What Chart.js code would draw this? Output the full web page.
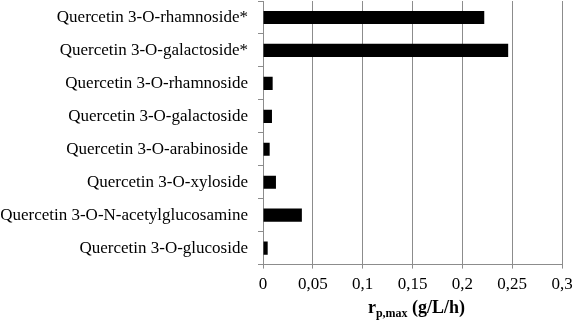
<!DOCTYPE html>
<html>
<head>
<meta charset="utf-8">
<script src="https://cdn.jsdelivr.net/npm/chart.js@4.4.0/dist/chart.umd.min.js"></script>
<style>
  html, body { margin: 0; padding: 0; background: #fff; }
</style>
</head>
<body>
<canvas id="myChart" width="572" height="322"></canvas>
<script>
// chart data
const categories = [
    'Quercetin 3-O-rhamnoside*',
    'Quercetin 3-O-galactoside*',
    'Quercetin 3-O-rhamnoside',
    'Quercetin 3-O-galactoside',
    'Quercetin 3-O-arabinoside',
    'Quercetin 3-O-xyloside',
    'Quercetin 3-O-N-acetylglucosamine',
    'Quercetin 3-O-glucoside',
];
const rates = [0.222, 0.246, 0.0097, 0.009, 0.0067, 0.013, 0.039, 0.0047];
const xTicks = ['0', '0,05', '0,1', '0,15', '0,2', '0,25', '0,3'];

const serif = "'Liberation Serif', 'DejaVu Serif', serif";

// x axis title with subscript, drawn under the chart
const axisTitle = {
    id: 'axisTitle',
    afterDraw(chart) {
        const c = chart.ctx;
        const area = chart.chartArea;
        const mid = (area.left + area.right) / 2 + 4;
        const y = 313;
        c.save();
        c.fillStyle = '#000';
        c.textBaseline = 'alphabetic';
        const big = 'bold 18px ' + serif;
        const small = 'bold 12px ' + serif;
        c.font = big;
        const w1 = c.measureText('r').width;
        const w3 = c.measureText(' (g/L/h)').width;
        c.font = small;
        const w2 = c.measureText('p,max').width;
        let x = mid - (w1 + w2 + w3) / 2;
        c.textAlign = 'left';
        c.font = big;
        c.fillText('r', x, y);
        x += w1;
        c.font = small;
        c.fillText('p,max', x, y + 4);
        x += w2;
        c.font = big;
        c.fillText(' (g/L/h)', x, y);
        c.restore();
    }
};

const ctx = document.getElementById('myChart');
new Chart(ctx, {
    type: 'bar',
    data: {
        labels: categories,
        datasets: [{
            data: rates,
            backgroundColor: '#000',
            borderColor: '#000',
            borderWidth: 0,
            barPercentage: 0.4,
            categoryPercentage: 1,
        }],
    },
    options: {
        indexAxis: 'y',
        responsive: false,
        animation: false,
        layout: {
            padding: { top: 1, right: 10, bottom: 21, left: 0 }
        },
        plugins: {
            legend: { display: false },
            tooltip: { enabled: false },
        },
        scales: {
            x: {
                min: 0,
                max: 0.3,
                afterFit: (s) => { s.paddingLeft = 0; s.paddingRight = 0; },
                ticks: {
                    stepSize: 0.05,
                    autoSkip: false,
                    maxRotation: 0,
                    color: '#000',
                    font: { family: serif, size: 17 },
                    padding: 6,
                    callback: (v, i) => xTicks[i],
                },
                grid: {
                    color: '#8c8c8c',
                    lineWidth: 1,
                    tickLength: 4,
                },
                border: { color: '#8c8c8c' },
            },
            y: {
                afterFit: (s) => { s.paddingTop = 0; s.paddingBottom = 0; s.width = 263; },
                ticks: {
                    autoSkip: false,
                    color: '#000',
                    font: { family: serif, size: 17 },
                    padding: 10,
                },
                grid: {
                    drawOnChartArea: false,
                    color: '#8c8c8c',
                    tickLength: 5,
                },
                border: { color: '#8c8c8c' },
            },
        },
    },
    plugins: [axisTitle],
});
</script>
</body>
</html>
